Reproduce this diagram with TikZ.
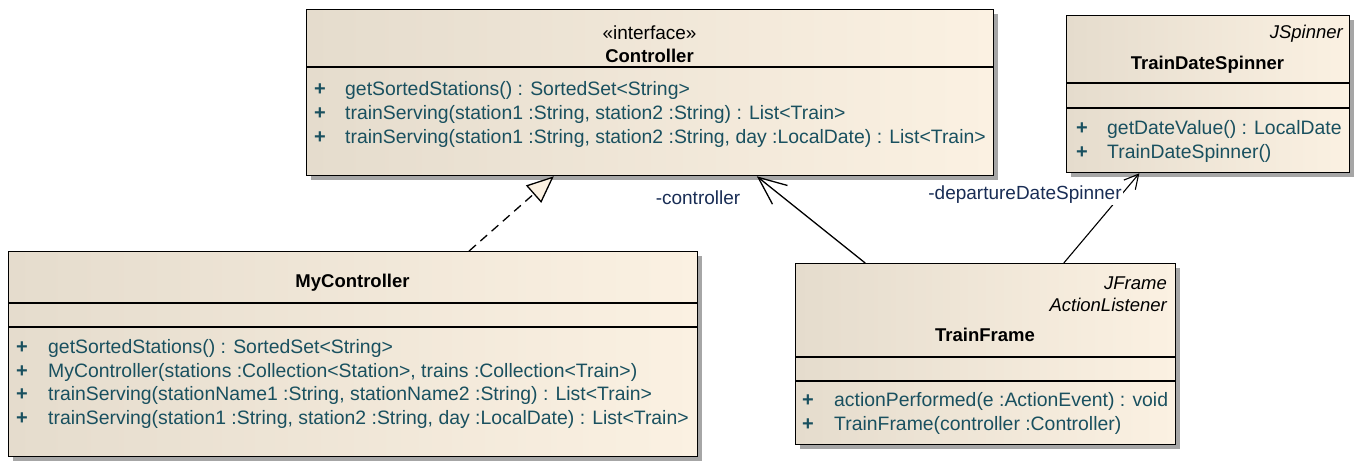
\documentclass[tikz,border=0pt]{standalone}
\usepackage{fontspec}
\setmainfont{Liberation Sans}
\usetikzlibrary{arrows.meta,shadows,calc}

\definecolor{boxleft}{RGB}{229,220,205}
\definecolor{boxright}{RGB}{251,241,226}
\definecolor{optext}{RGB}{25,80,95}
\definecolor{rolecol}{RGB}{25,45,85}

\tikzset{
  classbox/.style={draw, line width=1.3pt, left color=boxleft, right color=boxright,
    anchor=north west, inner sep=0pt,
    drop shadow={shadow xshift=4pt, shadow yshift=-4pt, fill=black!35, opacity=1}},
  sepline/.style={line width=1.3pt},
  umltext/.style={inner sep=0pt, font=\fontsize{19}{22}\selectfont},
  classname/.style={inner sep=0pt, anchor=base, font=\fontsize{18.5}{22}\selectfont\bfseries},
  stereo/.style={umltext, anchor=base},
  parentname/.style={inner sep=0pt, anchor=base east, font=\fontsize{18.5}{22}\selectfont\itshape},
  op/.style={inner sep=0pt, anchor=base west, text=optext, font=\fontsize{19.4}{22}\selectfont},
  plus/.style={inner sep=0pt, anchor=base, text=optext, font=\fontsize{20}{22}\selectfont\bfseries},
  role/.style={umltext, text=rolecol, fill=white, inner sep=1pt},
  assoc/.style={line width=1.3pt, -{Straight Barb[length=28pt,width=24pt,line width=1.3pt]}},
  assocsmall/.style={line width=1.1pt, -{Straight Barb[length=14pt,width=15pt,line width=1.1pt]}},
  realize/.style={line width=1.3pt, dash pattern=on 9pt off 6pt,
    -{Triangle[length=27pt,width=23pt,fill=boxright,line width=1.3pt]}}
}

\begin{document}
\begin{tikzpicture}[x=1pt,y=-1pt]
  \useasboundingbox (0,0) rectangle (1358,461);

  % class boxes
  \node[classbox, minimum width=687pt, minimum height=166pt] (ctrl) at (306,9) {};
  \node[classbox, minimum width=283pt, minimum height=157pt] (tds) at (1066,15) {};
  \node[classbox, minimum width=689pt, minimum height=205pt] (myc) at (8,251) {};
  \node[classbox, minimum width=380pt, minimum height=181pt] (tf) at (795,263) {};

  % compartments
  \draw[sepline] ([yshift=-58pt]ctrl.north west) -- ([yshift=-58pt]ctrl.north east);
  \foreach \d in {68,93}
    \draw[sepline] ([yshift=-\d pt]tds.north west) -- ([yshift=-\d pt]tds.north east);
  \foreach \d in {52,76}
    \draw[sepline] ([yshift=-\d pt]myc.north west) -- ([yshift=-\d pt]myc.north east);
  \foreach \d in {94,118}
    \draw[sepline] ([yshift=-\d pt]tf.north west) -- ([yshift=-\d pt]tf.north east);

  % Controller
  \node[stereo] (ctrl-st) at (649.5,39.5) {«interface»};
  \node[classname] (ctrl-name) at (649.5,62.5) {Controller};
  \foreach \m [count=\i] in {{getSortedStations() : SortedSet<String>},
      {trainServing(station1 :String, station2 :String) : List<Train>},
      {trainServing(station1 :String, station2 :String, day :LocalDate) : List<Train>}} {
    \node[plus] (ctrl-p\i) at (320,71.5+24*\i) {+};
    \node[op] (ctrl-m\i) at (345,71.5+24*\i) {\m};
  }

  % TrainDateSpinner
  \node[parentname] (tds-par) at (1343,38) {JSpinner};
  \node[classname] (tds-name) at (1207.5,69.5) {TrainDateSpinner};
  \foreach \m [count=\i] in {{getDateValue() : LocalDate}, {TrainDateSpinner()}} {
    \node[plus] (tds-p\i) at (1082,110.5+24*\i) {+};
    \node[op] (tds-m\i) at (1107,110.5+24*\i) {\m};
  }

  % MyController
  \node[classname] (myc-name) at (352.5,287.5) {MyController};
  \foreach \m [count=\i] in {{getSortedStations() : SortedSet<String>},
      {MyController(stations :Collection<Station>, trains :Collection<Train>)},
      {trainServing(stationName1 :String, stationName2 :String) : List<Train>},
      {trainServing(station1 :String, station2 :String, day :LocalDate) : List<Train>}} {
    \node[plus] (myc-p\i) at (22,330+23.5*\i) {+};
    \node[op] (myc-m\i) at (48,330+23.5*\i) {\m};
  }

  % TrainFrame
  \node[parentname] (tf-par1) at (1167,289) {JFrame};
  \node[parentname] (tf-par2) at (1167,311) {ActionListener};
  \node[classname] (tf-name) at (985,341.5) {TrainFrame};
  \foreach \m [count=\i] in {{actionPerformed(e :ActionEvent) : void},
      {TrainFrame(controller :Controller)}} {
    \node[plus] (tf-p\i) at (808,382.5+24*\i) {+};
    \node[op] (tf-m\i) at (834,382.5+24*\i) {\m};
  }

  % relations
  \draw[realize] ($(myc.north west)!0.668!(myc.north east)$) -- ($(ctrl.south west)!0.36!(ctrl.south east)$);
  \draw[assoc] ($(tf.north west)!0.184!(tf.north east)$) -- ($(ctrl.south west)!0.655!(ctrl.south east)$);
  \draw[assocsmall] ($(tf.north west)!0.705!(tf.north east)$) -- ($(tds.south west)!0.258!(tds.south east)$);
  \node[role] (role-ctrl) at (698,198) {-controller};
  \node[role] (role-tds) at (1025,195) {-departureDateSpinner};
\end{tikzpicture}
\end{document}
